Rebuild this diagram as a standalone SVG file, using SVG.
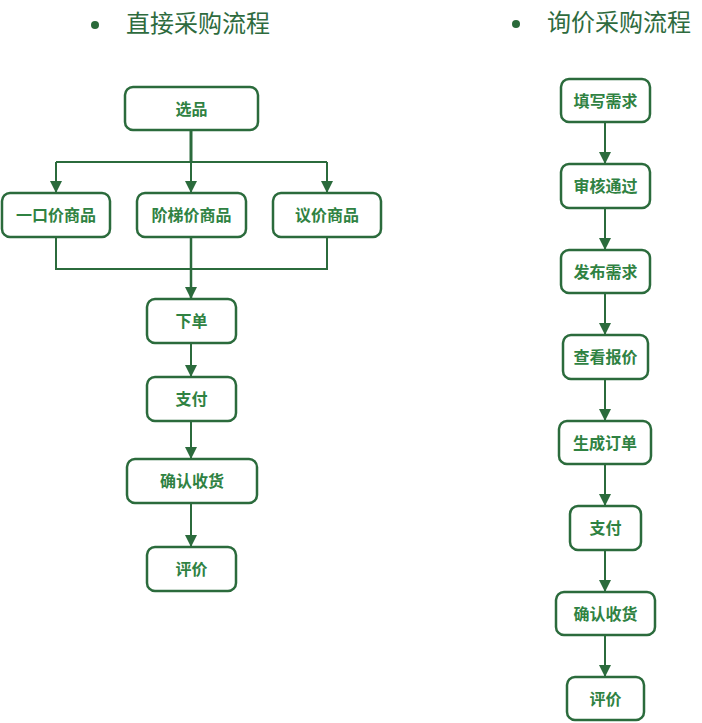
<svg xmlns="http://www.w3.org/2000/svg" width="702" height="723" viewBox="0 0 702 723">
<style>
.box{fill:#fff;stroke:#2b6b3c;stroke-width:2.5}
.lbl{font-family:"Noto Sans CJK SC",sans-serif;font-size:16px;font-weight:bold;fill:#2f8242;text-anchor:middle;dominant-baseline:central}
.ttl{font-family:"Noto Sans CJK SC",sans-serif;font-size:24px;fill:#2e6b3e}
.ln{fill:none;stroke:#2b6b3c;stroke-width:2}
</style>
<defs>
<marker id="ah" viewBox="0 0 12 12" refX="12" refY="6" markerWidth="12" markerHeight="12" markerUnits="userSpaceOnUse" orient="auto">
<path d="M0,0 L12,6 L0,12 z" fill="#2b6b3c"/>
</marker>
</defs>
<g id="titles">
<circle cx="95" cy="25" r="4" fill="#2a6a3a"/>
<text class="ttl" x="126" y="32">直接采购流程</text>
<circle cx="516" cy="24" r="4" fill="#2a6a3a"/>
<text class="ttl" x="547" y="31">询价采购流程</text>
</g>
<g id="connectors">
<path class="ln" d="M191,130 V162" style="stroke-width:3"/>
<path class="ln" d="M56,162 H327"/>
<path class="ln" d="M56,162 V193" marker-end="url(#ah)"/>
<path class="ln" d="M191,162 V193" marker-end="url(#ah)"/>
<path class="ln" d="M327,162 V193" marker-end="url(#ah)"/>
<path class="ln" d="M56,237 V269 H327 V237"/>
<path class="ln" d="M191,237 V299" marker-end="url(#ah)" style="stroke-width:2.5"/>
<path class="ln" d="M191,343 V377" marker-end="url(#ah)"/>
<path class="ln" d="M191,421 V459" marker-end="url(#ah)"/>
<path class="ln" d="M191,503 V547" marker-end="url(#ah)"/>
<path class="ln" d="M605,122 V164" marker-end="url(#ah)"/>
<path class="ln" d="M605,208 V250" marker-end="url(#ah)"/>
<path class="ln" d="M605,293 V335" marker-end="url(#ah)"/>
<path class="ln" d="M605,379 V421" marker-end="url(#ah)"/>
<path class="ln" d="M605,464 V506" marker-end="url(#ah)"/>
<path class="ln" d="M605,550 V592" marker-end="url(#ah)"/>
<path class="ln" d="M605,635 V677" marker-end="url(#ah)"/>
</g>
<g id="n-xuanpin"><rect class="box" x="125" y="87" width="133" height="43" rx="8"/><text class="lbl" x="191.5" y="107.5">选品</text></g>
<g id="n-yikoujia"><rect class="box" x="2" y="193" width="108" height="44" rx="8"/><text class="lbl" x="56" y="214">一口价商品</text></g>
<g id="n-jieti"><rect class="box" x="137" y="193" width="109" height="44" rx="8"/><text class="lbl" x="191.5" y="214">阶梯价商品</text></g>
<g id="n-yijia"><rect class="box" x="273" y="193" width="108" height="44" rx="8"/><text class="lbl" x="327" y="214">议价商品</text></g>
<g id="n-xiadan"><rect class="box" x="147" y="299" width="89" height="44" rx="8"/><text class="lbl" x="191.5" y="320">下单</text></g>
<g id="n-zhifu1"><rect class="box" x="147" y="377" width="89" height="44" rx="8"/><text class="lbl" x="191.5" y="398">支付</text></g>
<g id="n-queren1"><rect class="box" x="127" y="459" width="130" height="44" rx="8"/><text class="lbl" x="192" y="480">确认收货</text></g>
<g id="n-pingjia1"><rect class="box" x="147" y="547" width="89" height="44" rx="8"/><text class="lbl" x="191.5" y="568">评价</text></g>
<g id="n-tianxie"><rect class="box" x="561" y="79" width="89" height="43" rx="8"/><text class="lbl" x="605.5" y="99.5">填写需求</text></g>
<g id="n-shenhe"><rect class="box" x="561" y="164" width="89" height="44" rx="8"/><text class="lbl" x="605.5" y="185">审核通过</text></g>
<g id="n-fabu"><rect class="box" x="561" y="250" width="89" height="43" rx="8"/><text class="lbl" x="605.5" y="270.5">发布需求</text></g>
<g id="n-chakan"><rect class="box" x="563" y="335" width="85" height="44" rx="8"/><text class="lbl" x="605.5" y="356">查看报价</text></g>
<g id="n-shengcheng"><rect class="box" x="559" y="421" width="92" height="43" rx="8"/><text class="lbl" x="605" y="441.5">生成订单</text></g>
<g id="n-zhifu2"><rect class="box" x="570" y="506" width="71" height="44" rx="8"/><text class="lbl" x="605.5" y="527">支付</text></g>
<g id="n-queren2"><rect class="box" x="556" y="592" width="99" height="43" rx="8"/><text class="lbl" x="605.5" y="612.5">确认收货</text></g>
<g id="n-pingjia2"><rect class="box" x="567" y="677" width="77" height="43" rx="8"/><text class="lbl" x="605.5" y="697.5">评价</text></g>
</svg>
